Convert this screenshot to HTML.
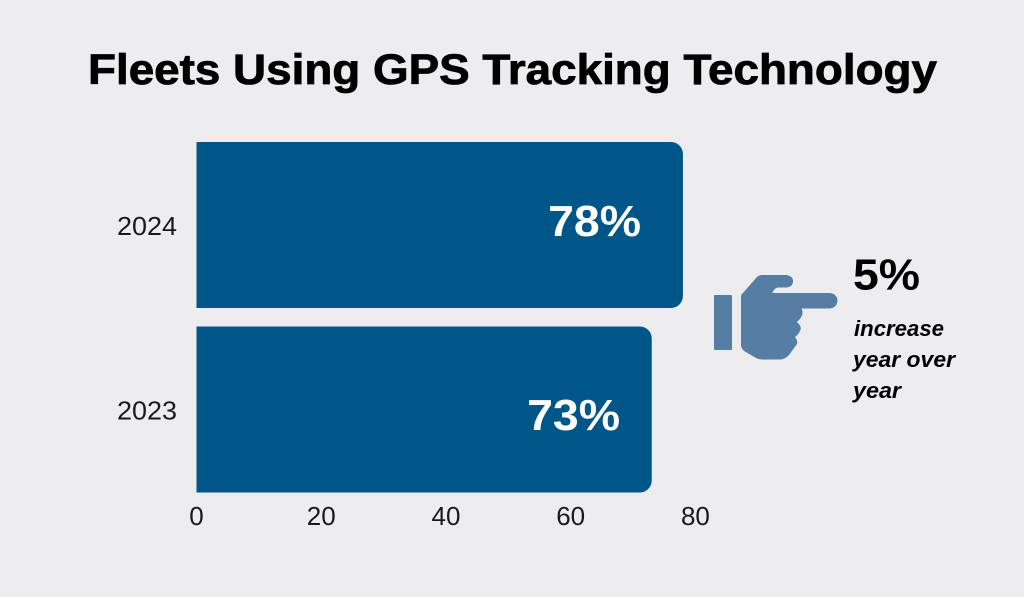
<!DOCTYPE html>
<html>
<head>
<meta charset="utf-8">
<title>Fleets Using GPS Tracking Technology</title>
<style>
html,body{margin:0;padding:0;width:1024px;height:597px;overflow:hidden;background:#edecef}
svg{display:block}
text{font-family:"Liberation Sans",sans-serif}
</style>
</head>
<body>
<svg id="chart" width="1024" height="597" viewBox="0 0 1024 597" xmlns="http://www.w3.org/2000/svg">
<rect width="1024" height="597" fill="#edecef"/>
<text x="88" y="84" font-size="43" font-weight="700" fill="#000" stroke="#000" stroke-width="0.8" textLength="849" lengthAdjust="spacingAndGlyphs">Fleets Using GPS Tracking Technology</text>
<g id="bars"></g>
<g id="y-axis"></g>
<g id="x-axis"></g>
<g fill="#567da3">
<rect x="714" y="295" width="18" height="55" rx="1"/>
<path d="M741 296 Q741 295 742 294 L757 277 Q759 275 762 275 L786 275 Q793 276 793 281 Q793 287 786 287.500 L778 287.500 Q774 288 772.500 293 L830 293 Q837 294 837.500 300.500 Q837 307.500 830 308.500 L801.500 308.500 Q805 315 797 322 Q802.500 327 800 331 Q798 335 795 337 Q798 341 797 344 L789 355 Q785 359 781 359.500 L762 359.500 Q759 359.500 756 358 L745 351.500 Q741 349 741 345 Z"/>
</g>
<text x="853" y="289.500" font-size="44" font-weight="700" fill="#000" textLength="67" lengthAdjust="spacingAndGlyphs">5%</text>
<text x="854" y="336" font-size="22" font-weight="700" font-style="italic" fill="#000" textLength="90" lengthAdjust="spacingAndGlyphs">increase</text>
<text x="853" y="367" font-size="22" font-weight="700" font-style="italic" fill="#000" textLength="102" lengthAdjust="spacingAndGlyphs">year over</text>
<text x="853" y="398" font-size="22" font-weight="700" font-style="italic" fill="#000" textLength="48" lengthAdjust="spacingAndGlyphs">year</text>
</svg>
<script>
const categories = ['2024', '2023'];
const values = [78, 73];
const tickValues = [0, 20, 40, 60, 80];

const NS = 'http://www.w3.org/2000/svg';
const plotLeft = 196.5, plotRight = 695.4, plotTop = 142, bandStep = 184.5, barHeight = 166, radius = 12;
const labelTop = 236, labelStep = 194;
const xMax = 80;
function xScale(v) { return plotLeft + (v / xMax) * (plotRight - plotLeft); }
function yScale(i) { return plotTop + i * bandStep; }
function labelRight(v) { return plotLeft + 117 + 4.2 * v; }
function make(tag, attrs, parent, text) {
  const el = document.createElementNS(NS, tag);
  for (const k in attrs) el.setAttribute(k, attrs[k]);
  if (text !== undefined) el.textContent = text;
  parent.appendChild(el);
  return el;
}
const barsG = document.getElementById('bars');
const yG = document.getElementById('y-axis');
const xG = document.getElementById('x-axis');
categories.forEach(function (cat, i) {
  const x1 = xScale(values[i]), y0 = yScale(i), y1 = y0 + barHeight, r = radius;
  const bar = make('path', {
    d: 'M' + plotLeft + ' ' + y0 + ' H' + (x1 - r) + ' A' + r + ' ' + r + ' 0 0 1 ' + x1 + ' ' + (y0 + r) +
       ' V' + (y1 - r) + ' A' + r + ' ' + r + ' 0 0 1 ' + (x1 - r) + ' ' + y1 + ' H' + plotLeft + ' Z',
    fill: '#005689'
  }, barsG);
  
  
  const val = make('text', {
    x: labelRight(values[i]), y: labelTop + i * labelStep, 'text-anchor': 'end', 'font-size': 44,
    'font-weight': 700, fill: '#fff', textLength: 93, lengthAdjust: 'spacingAndGlyphs'
  }, barsG, values[i] + '%');
  
  
  const lab = make('text', {
    x: 147, y: y0 + 93, 'text-anchor': 'middle', 'font-size': 26, fill: '#1a1a1a',
    textLength: 60, lengthAdjust: 'spacingAndGlyphs'
  }, yG, cat);
  
  
});
tickValues.forEach(function (t) {
  const lab = make('text', {
    x: xScale(t), y: 525, 'text-anchor': 'middle', 'font-size': 26, fill: '#1a1a1a'
  }, xG, String(t));
  
  
});
</script>
</body>
</html>
